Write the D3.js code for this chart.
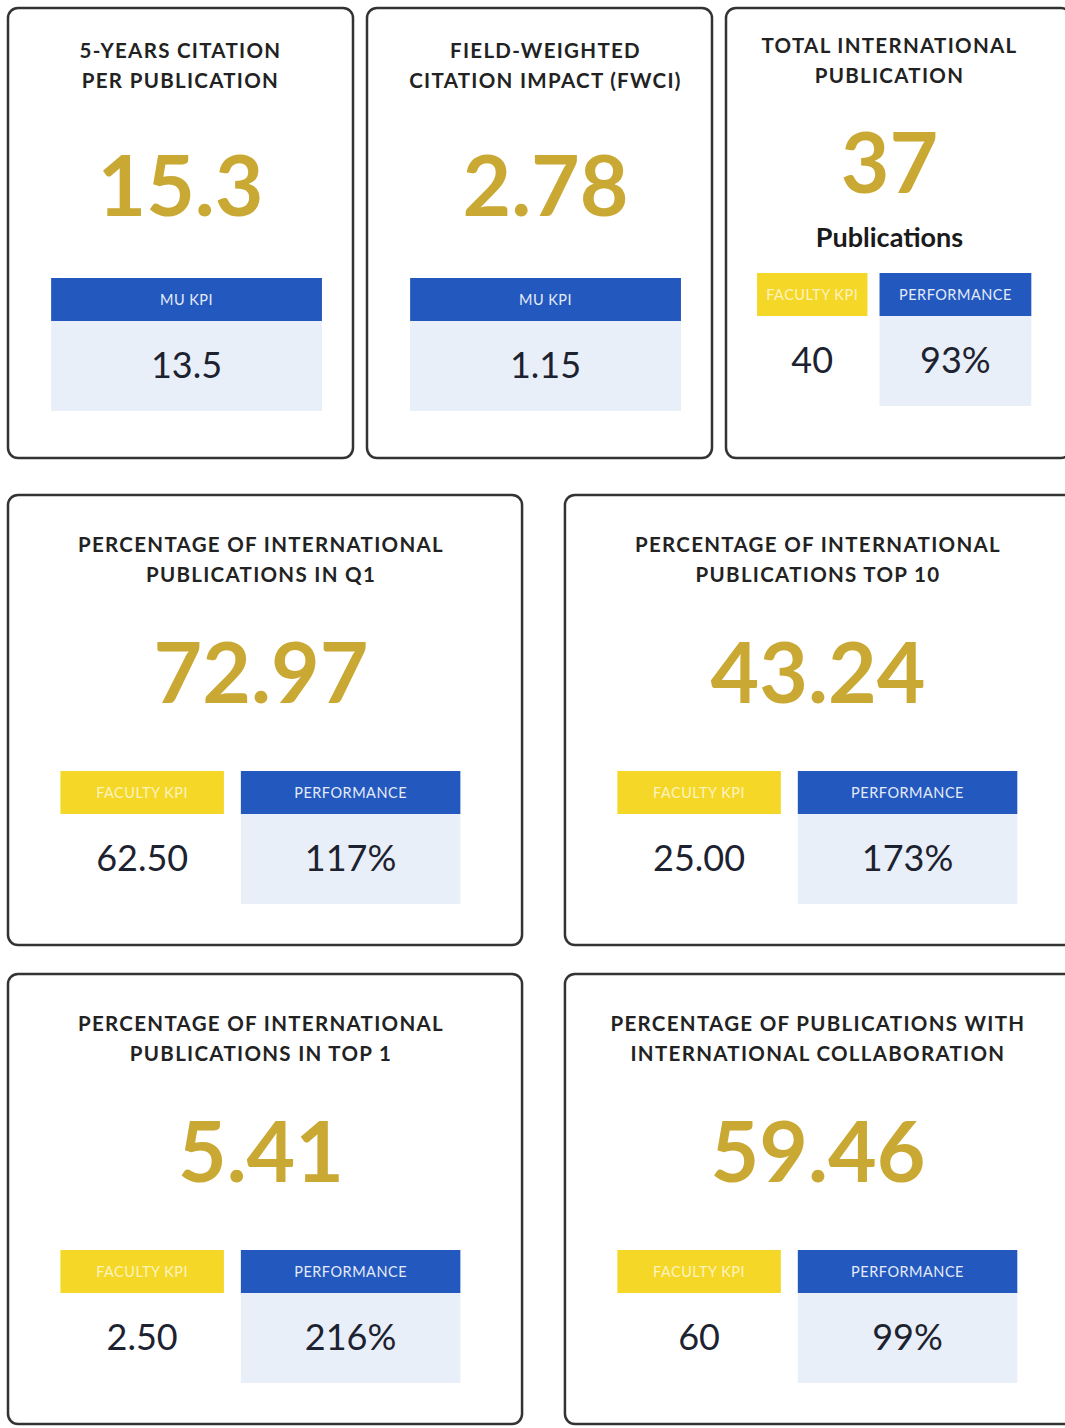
<!DOCTYPE html>
<html>
<head>
<meta charset="utf-8">
<script src="https://cdn.jsdelivr.net/npm/d3@7"></script>
<style>
  html,body{margin:0;padding:0;background:#fff;}
  svg{display:block;font-family:Lato,"Noto Sans",sans-serif;}
</style>
</head>
<body>
<svg id="kpi" width="1065" height="1428"></svg>
<script>
// card data
const titles=[
  ["5-YEARS CITATION","PER PUBLICATION"],
  ["FIELD-WEIGHTED","CITATION IMPACT (FWCI)"],
  ["TOTAL INTERNATIONAL","PUBLICATION"],
  ["PERCENTAGE OF INTERNATIONAL","PUBLICATIONS IN Q1"],
  ["PERCENTAGE OF INTERNATIONAL","PUBLICATIONS TOP 10"],
  ["PERCENTAGE OF INTERNATIONAL","PUBLICATIONS IN TOP 1"],
  ["PERCENTAGE OF PUBLICATIONS WITH","INTERNATIONAL COLLABORATION"]
];
const mainValues=["15.3","2.78","37","72.97","43.24","5.41","59.46"];
const units=[null,null,"Publications",null,null,null,null];
const kpiLabels=["MU KPI","MU KPI","FACULTY KPI","FACULTY KPI","FACULTY KPI","FACULTY KPI","FACULTY KPI"];
const kpiValues=["13.5","1.15","40","62.50","25.00","2.50","60"];
const perfValues=[null,null,"93%","117%","173%","216%","99%"];
const rowOf=[0,0,0,1,1,2,2];

// layout
const rowTops=[8,495,974];
const rowH=450;
const svg=d3.select("#kpi");

const col3=d3.scaleBand().domain([0,1,2]).range([8,1071]).paddingInner(0.039);
const col2=d3.scaleBand().domain([0,1]).range([8,1079]).paddingInner(0.077);

const gold="#c9a934",blue="#2358bf",yellow="#f5d727",pale="#e8eff8",ink="#1d2230";

const cards=titles.map((t,i)=>{
  const r=rowOf[i];
  const idx=r===0?i:(r===1?i-3:i-5);
  const sc=r===0?col3:col2;
  return {i,r,x:sc(idx),w:sc.bandwidth(),y:rowTops[r]};
});

cards.forEach(c=>{
  const g=svg.append("g").attr("transform",`translate(${c.x},${c.y})`);
  const i=c.i;
  const single=perfValues[i]===null;
  const wide=c.r>0;

  g.append("rect")
    .attr("x",0).attr("y",0).attr("width",c.w).attr("height",rowH)
    .attr("rx",10).attr("fill","#fff")
    .attr("stroke","#333").attr("stroke-width",2.5);

  const cx=c.w/2+(units[i]?-9:(wide?-4:(i===1?6:0)));
  const titleTop=wide?49:(single?42:37);
  g.selectAll("text.title").data(titles[i]).join("text")
    .attr("class","title")
    .attr("x",cx).attr("y",(d,k)=>titleTop+k*30)
    .attr("text-anchor","middle").attr("dominant-baseline","central")
    .attr("font-size",20.5).attr("font-weight",700).attr("letter-spacing",1.3)
    .attr("fill","#222").text(d=>d);

  const bigY=units[i]?152:175;
  g.append("text")
    .attr("x",cx).attr("y",bigY)
    .attr("text-anchor","middle").attr("dominant-baseline","central")
    .attr("font-size",84).attr("font-weight",700)
    .attr("fill",gold).text(mainValues[i]);

  if(units[i]){
    g.append("text")
      .attr("x",cx).attr("y",228)
      .attr("text-anchor","middle").attr("dominant-baseline","central")
      .attr("font-size",27).attr("font-weight",700)
      .attr("fill","#1a1a1a").text(units[i]);
  }

  const barTop=units[i]?265:(wide?276:270);
  const barH=43, panelBottom=barTop+133;
  const fx=d3.scaleLinear().domain([0,1]).range([0,c.w]);

  const panels=single
    ? [{label:kpiLabels[i],value:kpiValues[i],x0:0.125,x1:0.91,head:blue,fill:pale,lc:"#e4ebf8"}]
    : (c.r===0
      ? [{label:kpiLabels[i],value:kpiValues[i],x0:0.09,x1:0.41,head:yellow,fill:"#fff",lc:"#fdf3c0"},
         {label:"PERFORMANCE",value:perfValues[i],x0:0.445,x1:0.885,head:blue,fill:pale,lc:"#e4ebf8"}]
      : [{label:kpiLabels[i],value:kpiValues[i],x0:0.102,x1:0.42,head:yellow,fill:"#fff",lc:"#fdf3c0"},
         {label:"PERFORMANCE",value:perfValues[i],x0:0.453,x1:0.88,head:blue,fill:pale,lc:"#e4ebf8"}]);

  panels.forEach(p=>{
    const x0=fx(p.x0),pw=fx(p.x1)-fx(p.x0);
    g.append("rect").attr("x",x0).attr("y",barTop+barH).attr("width",pw)
      .attr("height",panelBottom-barTop-barH).attr("fill",p.fill);
    g.append("rect").attr("x",x0).attr("y",barTop).attr("width",pw)
      .attr("height",barH).attr("fill",p.head);
    g.append("text").attr("x",x0+pw/2).attr("y",barTop+barH/2)
      .attr("text-anchor","middle").attr("dominant-baseline","central")
      .attr("font-size",14.5).attr("letter-spacing",0.5).attr("fill",p.lc).text(p.label);
    g.append("text").attr("x",x0+pw/2).attr("y",barTop+barH+43)
      .attr("text-anchor","middle").attr("dominant-baseline","central")
      .attr("font-size",36).attr("fill",ink).text(p.value);
  });
});
</script>
</body>
</html>
